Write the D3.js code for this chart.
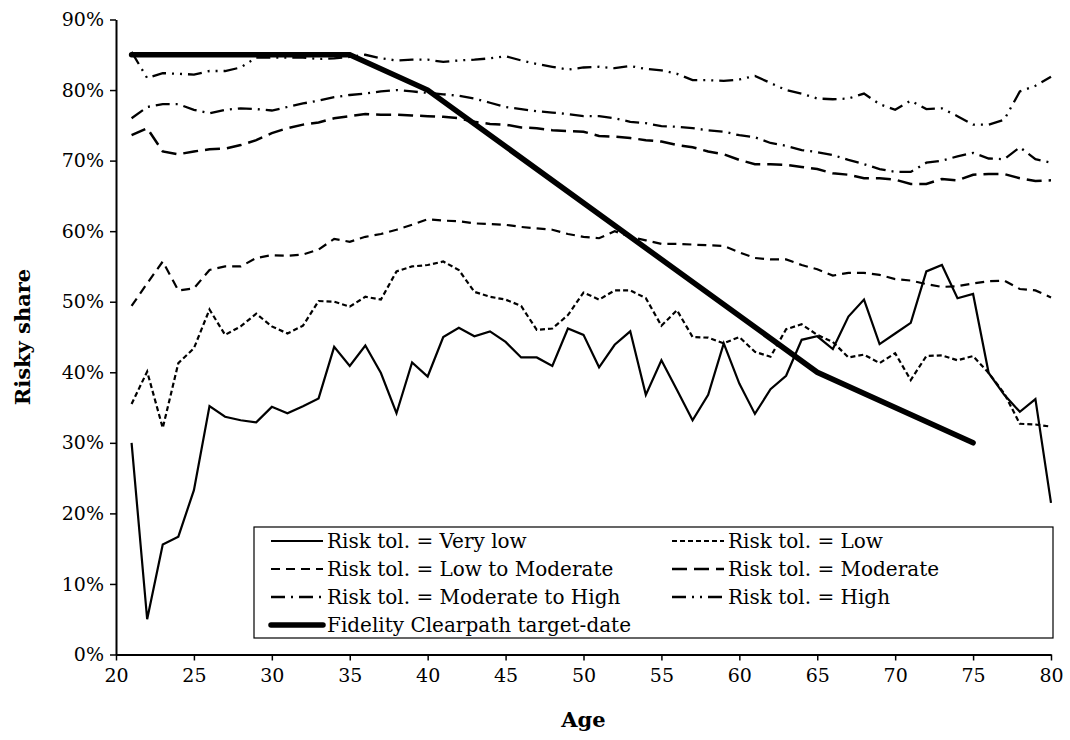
<!DOCTYPE html>
<html>
<head>
<meta charset="utf-8">
<script src="https://cdn.jsdelivr.net/npm/d3@7"></script>
<style>
  body { margin: 0; background: #fff; }
  text { font-family: "DejaVu Serif", "Liberation Serif", serif; fill: #000; }
</style>
</head>
<body>
<div id="chart"></div>
<script>
// ages 21..80
var ages = d3.range(21, 81);

var veryLow = [30.0, 5.0, 15.6, 16.7, 23.3, 35.2, 33.7, 33.2, 32.9, 35.1,
  34.2, 35.2, 36.3, 43.6, 40.9, 43.8, 39.9, 34.2, 41.4, 39.4,
  45.0, 46.3, 45.1, 45.8, 44.3, 42.1, 42.1, 40.9, 46.2, 45.3,
  40.7, 43.9, 45.8, 36.8, 41.7, 37.5, 33.2, 36.8, 44.1, 38.4,
  34.1, 37.6, 39.5, 44.6, 45.1, 43.3, 47.9, 50.3, 44.0, 45.5,
  47.0, 54.3, 55.2, 50.5, 51.1, 39.9, 36.8, 34.4, 36.2, 21.5];

var low = [35.5, 40.1, 32.1, 41.3, 43.4, 48.9, 45.3, 46.5, 48.3, 46.5,
  45.5, 46.6, 50.1, 50.0, 49.3, 50.7, 50.3, 54.3, 55.0, 55.2,
  55.7, 54.5, 51.4, 50.7, 50.3, 49.4, 46.0, 46.2, 48.1, 51.3,
  50.3, 51.6, 51.6, 50.5, 46.6, 48.8, 45.0, 44.9, 44.1, 45.0,
  42.9, 42.2, 46.1, 46.8, 45.3, 44.3, 42.1, 42.5, 41.3, 42.7,
  38.9, 42.3, 42.4, 41.7, 42.3, 39.9, 37.0, 32.7, 32.6, 32.3];

var lowMod = [49.4, 52.6, 55.7, 51.6, 51.9, 54.5, 55.0, 55.0, 56.2, 56.6,
  56.5, 56.7, 57.4, 58.9, 58.5, 59.2, 59.6, 60.2, 60.9, 61.7,
  61.5, 61.4, 61.1, 61.0, 60.9, 60.6, 60.4, 60.2, 59.6, 59.2,
  59.0, 60.0, 59.2, 58.7, 58.2, 58.2, 58.1, 58.0, 57.9, 57.0,
  56.2, 56.0, 56.0, 55.2, 54.6, 53.7, 54.1, 54.1, 53.8, 53.2,
  53.0, 52.5, 52.1, 52.2, 52.6, 52.9, 53.0, 51.8, 51.6, 50.6];

var moderate = [73.6, 74.6, 71.3, 70.9, 71.3, 71.6, 71.7, 72.2, 72.9, 73.9,
  74.6, 75.1, 75.4, 76.0, 76.3, 76.6, 76.5, 76.5, 76.4, 76.3,
  76.2, 76.0, 75.5, 75.2, 75.1, 74.7, 74.6, 74.3, 74.2, 74.1,
  73.5, 73.4, 73.2, 72.9, 72.7, 72.2, 71.9, 71.3, 70.9, 70.1,
  69.5, 69.5, 69.4, 69.1, 68.8, 68.2, 68.0, 67.5, 67.5, 67.3,
  66.7, 66.7, 67.4, 67.2, 68.0, 68.1, 68.1, 67.5, 67.1, 67.2];

var modHigh = [76.0, 77.6, 78.0, 78.0, 77.2, 76.7, 77.2, 77.4, 77.3, 77.1,
  77.6, 78.1, 78.5, 79.0, 79.3, 79.5, 79.8, 80.0, 79.8, 79.6,
  79.4, 79.2, 78.8, 78.2, 77.6, 77.3, 77.0, 76.8, 76.6, 76.3,
  76.3, 76.0, 75.5, 75.3, 74.9, 74.8, 74.6, 74.3, 74.1, 73.6,
  73.3, 72.5, 72.1, 71.5, 71.2, 70.8, 70.1, 69.5, 68.8, 68.4,
  68.4, 69.7, 70.0, 70.6, 71.1, 70.3, 70.2, 71.9, 70.2, 69.7];

var high = [85.4, 81.7, 82.4, 82.3, 82.2, 82.7, 82.7, 83.2, 84.6, 84.6,
  84.6, 84.6, 84.4, 84.5, 84.7, 85.0, 84.5, 84.2, 84.3, 84.3,
  84.0, 84.2, 84.3, 84.5, 84.8, 84.2, 83.7, 83.3, 82.9, 83.2,
  83.3, 83.1, 83.4, 83.0, 82.8, 82.3, 81.4, 81.4, 81.3, 81.5,
  82.0, 81.0, 80.0, 79.5, 78.8, 78.7, 78.8, 79.5, 78.0, 77.2,
  78.5, 77.3, 77.4, 76.3, 75.1, 75.1, 75.8, 79.8, 80.6, 81.9];

// glide path: kinks only
var fidelityAges = [21, 35, 40, 65, 75];
var fidelity = [85, 85, 80, 40, 30];

var xTicks = [20, 25, 30, 35, 40, 45, 50, 55, 60, 65, 70, 75, 80];
var yTicks = [0, 10, 20, 30, 40, 50, 60, 70, 80, 90];

var series = [
  { name: "Risk tol. = Very low", values: veryLow, dash: null, width: 2.2 },
  { name: "Risk tol. = Low", values: low, dash: "5,3", width: 2.2 },
  { name: "Risk tol. = Low to Moderate", values: lowMod, dash: "9,6", width: 2.2 },
  { name: "Risk tol. = Moderate", values: moderate, dash: "15,7", width: 2.5 },
  { name: "Risk tol. = Moderate to High", values: modHigh, dash: "14,6,2,6", width: 2.3 },
  { name: "Risk tol. = High", values: high, dash: "14,6,2,6,2,6", width: 2.3 }
];

var W = 1070, H = 740;
var margin = { top: 19.5, right: 19, bottom: 85.5, left: 116 };
var width = W - margin.left - margin.right;
var height = H - margin.top - margin.bottom;

var svg = d3.select("#chart").append("svg")
    .attr("width", W)
    .attr("height", H)
  .append("g")
    .attr("transform", "translate(" + margin.left + "," + margin.top + ")");

var x = d3.scaleLinear().domain([20, 80]).range([0, width]);
var y = d3.scaleLinear().domain([0, 90]).range([height, 0]);

var xAxis = svg.append("g")
    .attr("transform", "translate(0," + height + ")")
    .call(d3.axisBottom(x).tickValues(xTicks).tickSize(6).tickSizeOuter(0).tickPadding(8));
var yAxis = svg.append("g")
    .call(d3.axisLeft(y).tickValues(yTicks).tickSize(6).tickSizeOuter(0).tickPadding(6)
      .tickFormat(function(d) { return d + "%"; }));

[xAxis, yAxis].forEach(function(a) {
  a.select(".domain").attr("stroke", "#000").attr("stroke-width", 2);
  a.selectAll(".tick line").attr("stroke", "#000").attr("stroke-width", 1.5);
  a.selectAll("text").style("font-size", "19px").style("font-family", "DejaVu Serif");
});

svg.append("text")
    .attr("x", width / 2)
    .attr("y", height + 72)
    .attr("text-anchor", "middle")
    .style("font-size", "21px")
    .style("font-weight", "bold")
    .text("Age");

svg.append("text")
    .attr("transform", "rotate(-90)")
    .attr("x", -height / 2)
    .attr("y", -86)
    .attr("text-anchor", "middle")
    .style("font-size", "21px")
    .style("font-weight", "bold")
    .text("Risky share");

var line = d3.line()
    .x(function(d) { return x(d[0]); })
    .y(function(d) { return y(d[1]); });

series.forEach(function(s) {
  svg.append("path")
      .datum(ages.map(function(a, i) { return [a, s.values[i]]; }))
      .attr("fill", "none")
      .attr("stroke", "#000")
      .attr("stroke-width", s.width)
      .attr("stroke-dasharray", s.dash)
      .attr("d", line);
});

svg.append("path")
    .datum(fidelityAges.map(function(a, i) { return [a, fidelity[i]]; }))
    .attr("fill", "none")
    .attr("stroke", "#000")
    .attr("stroke-width", 5.5)
    .attr("stroke-linecap", "round")
    .attr("d", line);

// legend, stretched to the right end of the axis
var legendItems = series.concat([{ name: "Fidelity Clearpath target-date", dash: null, width: 5.5 }]);
var lx = 254 - margin.left, ly = 527 - margin.top;
var legend = svg.append("g").attr("transform", "translate(" + lx + "," + ly + ")");
var colX = [17, 418], rowH = 28, sampleW = 52;
legend.append("rect")
    .attr("x", 0).attr("y", 0)
    .attr("width", width - lx + 2)
    .attr("height", 111)
    .attr("fill", "#fff")
    .attr("stroke", "#000")
    .attr("stroke-width", 1.2);
legendItems.forEach(function(s, i) {
  var cx = colX[i % 2];
  var cy = 14 + Math.floor(i / 2) * rowH;
  legend.append("line")
      .attr("x1", cx).attr("x2", cx + sampleW)
      .attr("y1", cy).attr("y2", cy)
      .attr("stroke", "#000")
      .attr("stroke-width", s.width)
      .attr("stroke-linecap", s.width > 3 ? "round" : "butt")
      .attr("stroke-dasharray", s.dash);
  legend.append("text")
      .attr("x", cx + sampleW + 4)
      .attr("y", cy)
      .attr("dy", "0.36em")
      .style("font-size", "20px")
      .text(s.name);
});
</script>
</body>
</html>
